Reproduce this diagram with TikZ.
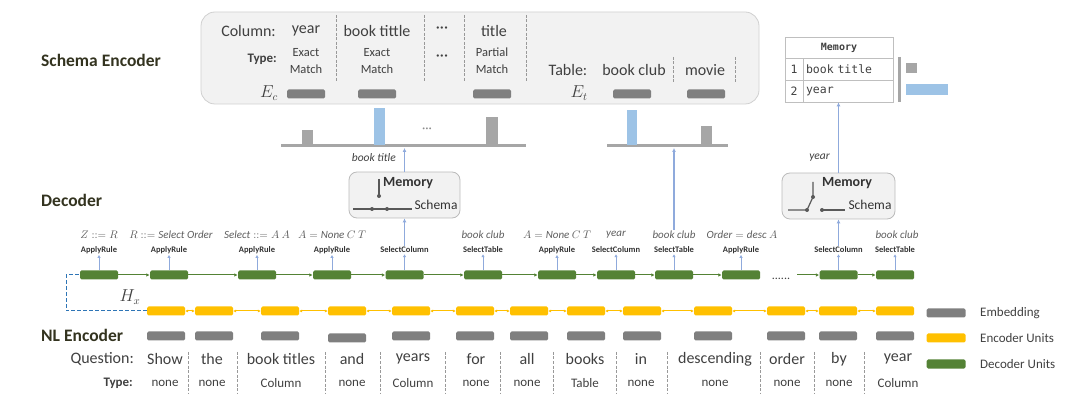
\documentclass[tikz,border=0pt]{standalone}
\usepackage{fontspec}
\setmainfont{Carlito}
\setmonofont{DejaVu Sans Mono}
\usepackage{xcolor}
\usepackage{tikz}
\usetikzlibrary{arrows.meta}

\definecolor{headcol}{HTML}{33331F}
\definecolor{textcol}{HTML}{404040}
\definecolor{panelfill}{HTML}{F2F2F2}
\definecolor{paneldraw}{HTML}{D0D0D0}
\definecolor{embgray}{HTML}{7F7F7F}
\definecolor{attgray}{HTML}{A6A6A6}
\definecolor{attblue}{HTML}{9DC3E6}
\definecolor{upblue}{HTML}{8FAADC}
\definecolor{hxblue}{HTML}{2E75B6}
\definecolor{decgreen}{HTML}{548235}
\definecolor{encyellow}{HTML}{FFC000}
\definecolor{swgray}{HTML}{595959}

\newcommand{\fsz}[1]{\fontsize{#1}{#1}\selectfont}

\begin{document}
\begin{tikzpicture}[
    x=1pt, y=-1pt,
    heading/.style={anchor=west, inner sep=0pt, text=headcol, font=\fsz{17.5}\bfseries},
    word/.style={inner sep=1pt, text=textcol, font=\fsz{16}},
    tag/.style={inner sep=1pt, text=textcol, align=center, font=\fontsize{12.5}{17}\selectfont},
    typelab/.style={anchor=east, inner sep=1pt, text=textcol, font=\fsz{13}\bfseries},
    typeword/.style={inner sep=1pt, text=textcol, font=\fsz{13}},
    emb/.style={rectangle, rounded corners=1.5pt, fill=embgray, minimum width=38pt,
        minimum height=9pt, inner sep=0pt},
    enc/.style={emb, fill=encyellow},
    dec/.style={emb, fill=decgreen},
    panel/.style={rectangle, rounded corners=14pt, draw=paneldraw, fill=panelfill, line width=0.8pt},
    membox/.style={rectangle, rounded corners=8pt, draw=paneldraw!90!black, fill=panelfill,
        line width=0.8pt, minimum width=111pt, minimum height=46pt},
    memtext/.style={inner sep=0pt, text=textcol!80!black, font=\fsz{14}\bfseries},
    schtext/.style={inner sep=0pt, text=textcol!80!black, font=\fsz{13.5}},
    rulelab/.style={inner sep=1pt, text=textcol!80!black, font=\fsz{8.5}\bfseries},
    actlab/.style={inner sep=1pt, text=textcol!85, font=\fsz{11}},
    memcell/.style={rectangle, draw=black!25, line width=0.7pt, inner sep=0pt, text=textcol,
        font=\ttfamily\fsz{11.5}},
    sep/.style={draw=black!40, line width=1pt, dash pattern=on 3pt off 1.5pt},
    base/.style={draw=attgray, line width=3pt},
    sw/.style={draw=swgray, line width=1.2pt},
    up/.style={draw=upblue, line width=1.2pt, -{Latex[length=4pt,width=4pt]}},
    tick/.style={draw=upblue, line width=1pt, -{Latex[length=3pt,width=3.5pt]}},
    decarrow/.style={draw=decgreen, line width=1pt, -{Latex[length=3.5pt,width=3.5pt]}},
    encarrow/.style={draw=encyellow, line width=1pt, {Latex[length=3pt,width=3pt]}-{Latex[length=3pt,width=3pt]}},
    hx/.style={draw=hxblue, line width=1pt, dash pattern=on 4pt off 2pt},
    legtext/.style={anchor=west, inner sep=0pt, text=textcol, font=\fsz{13}}
]
\useasboundingbox (0,0) rectangle (1080,398);

% Section headings
\node[heading] (hschema) at (41,60) {Schema Encoder};
\node[heading] (hdecoder) at (41,200) {Decoder};
\node[heading] (hnl) at (41,335) {NL Encoder};

% Schema panel
\node[panel, minimum width=558pt, minimum height=92pt] (schemabox) at (480,58) {};

\node[word, anchor=east] (collab) at (277,31) {Column:};
\node[word] (col1) at (306,31) {year};
\node[word] (col2) at (377,31) {book tittle};
\node[word] (col3) at (442,30) {···};
\node[word] (col4) at (494,31) {title};

\node[typelab] (ctypelab) at (278,59) {Type:};
\node[tag] (ctype1) at (306,61) {Exact\\Match};
\node[tag] (ctype2) at (377,61) {Exact\\Match};
\node[word] (ctype3) at (442,58) {···};
\node[tag] (ctype4) at (492,61) {Partial\\Match};

\node[word] (eclab) at (269,93) {$E_c$};
\node[emb] (ec1) at (306,94) {};
\node[emb] (ec2) at (377,94) {};
\node[emb] (ec4) at (492,94) {};

\draw[sep] (336,15) -- (336,82);
\draw[sep] (424,15) -- (424,82);
\draw[sep] (464,15) -- (464,82);
\draw[sep] (526,15) -- (526,82);

\node[word] (tablab) at (568,70) {Table:};
\node[word] (tab1) at (634,70) {book club};
\node[word] (tab2) at (705,70) {movie};
\draw[sep] (673,57) -- (673,84);
\draw[sep] (735,57) -- (735,84);

\node[word] (etlab) at (579,93) {$E_t$};
\node[emb] (et1) at (632,94) {};
\node[emb] (et2) at (706,94) {};

% Column and table pointers
\draw[base] (281,146) -- (526,146);
\fill[attgray] (302,130) rectangle (313,145);
\fill[attblue] (374,108) rectangle (385,145);
\node[word, text=black!45, font=\fsz{13}] (attdots) at (427,130) {···};
\fill[attgray] (486,117) rectangle (498,145);
\coordinate (colbase) at (404.5,148);

\draw[base] (607,146) -- (728,146);
\fill[attblue] (627,110) rectangle (637,145);
\fill[attgray] (701,126) rectangle (712,145);
\coordinate (tabbase) at (674,148);

% Memory table
\node[memcell, minimum width=108pt, minimum height=21pt, font=\ttfamily\bfseries\fsz{10}] (mhead) at (839,47.5) {Memory};
\node[memcell, minimum width=18pt, minimum height=22pt] (mnum1) at (794,69) {1};
\node[memcell, minimum width=90pt, minimum height=22pt, text width=84pt, align=left] (mval1) at (848,69) {book title};
\node[memcell, minimum width=18pt, minimum height=22pt] (mnum2) at (794,91) {2};
\node[memcell, minimum width=90pt, minimum height=22pt, text width=84pt, align=left] (mval2) at (848,91) {year};
\draw[base] (899,57) -- (899,102);
\fill[attgray] (906,63) rectangle (917,73);
\fill[attblue] (906,84) rectangle (948,95);

% Memory / schema switches
\node[membox] (mem1) at (404.5,195) {};
\node[memtext] (mem1a) at (408,183) {Memory};
\node[schtext] (mem1b) at (436,205) {Schema};
\draw[sw] (379,179) -- (379,196);
\fill[swgray] (379,196) circle (2pt);
\draw[sw] (353,209) -- (412,209);
\fill[swgray] (372,209) circle (2pt);
\fill[swgray] (387,209) circle (2pt);

\node[membox, minimum width=113pt] (mem2) at (838.5,196) {};
\node[memtext] (mem2a) at (847,183) {Memory};
\node[schtext] (mem2b) at (870,205) {Schema};
\draw[sw] (813,182) -- (813,197) -- (807,210) -- (788,210);
\fill[swgray] (813,197) circle (2pt);
\fill[swgray] (807,210) circle (2pt);
\fill[swgray] (822,210) circle (2pt);
\draw[sw] (822,210) -- (845,210);

\node[word, anchor=east, font=\fsz{11.5}\itshape] (bt) at (397,158) {book title};
\node[word, anchor=east, font=\fsz{11.5}\itshape] (yr) at (831,158) {year};

% Decoder units
\node[dec] (d1) at (99,275) {};
\node[dec] (d2) at (169,275) {};
\node[dec] (d3) at (257,275) {};
\node[dec] (d4) at (332,275) {};
\node[dec] (d5) at (404.5,275) {};
\node[dec] (d6) at (483,275) {};
\node[dec] (d7) at (557,275) {};
\node[dec] (d8) at (616,275) {};
\node[dec] (d9) at (674,275) {};
\node[dec] (d10) at (741,275) {};
\node[dec] (d11) at (838.5,275) {};
\node[dec] (d12) at (895,275) {};

\node[rulelab] (r1) at (99,250) {ApplyRule};
\node[rulelab] (r2) at (169,250) {ApplyRule};
\node[rulelab] (r3) at (257,250) {ApplyRule};
\node[rulelab] (r4) at (332,250) {ApplyRule};
\node[rulelab] (r5) at (404.5,250) {SelectColumn};
\node[rulelab] (r6) at (483,250) {SelectTable};
\node[rulelab] (r7) at (557,250) {ApplyRule};
\node[rulelab] (r8) at (616,250) {SelectColumn};
\node[rulelab] (r9) at (674,250) {SelectTable};
\node[rulelab] (r10) at (741,250) {ApplyRule};
\node[rulelab] (r11) at (838.5,250) {SelectColumn};
\node[rulelab] (r12) at (895,250) {SelectTable};

\node[actlab] (a1) at (99,235) {$Z \mathrel{::=} R$};
\node[actlab] (a2) at (171,235) {$R \mathrel{::=} \mathit{Select\ Order}$};
\node[actlab] (a3) at (257,235) {$\mathit{Select} \mathrel{::=} A\ A$};
\node[actlab] (a4) at (332,235) {$A = \mathit{None}\ C\ T$};
\node[actlab] (a6) at (483,235) {$\mathit{book\ club}$};
\node[actlab] (a7) at (557,235) {$A = \mathit{None}\ C\ T$};
\node[actlab] (a8) at (616,235) {$\mathit{year}$};
\node[actlab] (a9) at (674,235) {$\mathit{book\ club}$};
\node[actlab] (a10) at (742,235) {$\mathit{Order} = \mathit{desc}\ A$};
\node[actlab] (a12) at (897,235) {$\mathit{book\ club}$};

\node[word, font=\fsz{12}] (gap) at (781,279) {......};
\coordinate (d11in) at (797,275);

% Encoder units
\node[enc] (e1) at (166,311) {};
\node[enc] (e2) at (214,311) {};
\node[enc] (e3) at (280,311) {};
\node[enc] (e4) at (347,311) {};
\node[enc] (e5) at (411,311) {};
\node[enc] (e6) at (475,311) {};
\node[enc] (e7) at (529,311) {};
\node[enc] (e8) at (586,311) {};
\node[enc] (e9) at (642,311) {};
\node[enc] (e10) at (713,311) {};
\node[enc] (e11) at (786,311) {};
\node[enc] (e12) at (838,311) {};
\node[enc] (e13) at (895,311) {};

\node[word, font=\fsz{16}] (hxlab) at (130,297) {$H_x$};
\coordinate (hxcorner) at (66,311);

% Embeddings
\node[emb] (m1) at (166,336) {};
\node[emb] (m2) at (214,336) {};
\node[emb] (m3) at (280,336) {};
\node[emb] (m4) at (347,338) {};
\node[emb] (m5) at (411,336) {};
\node[emb] (m6) at (475,336) {};
\node[emb] (m7) at (529,336) {};
\node[emb] (m8) at (586,336) {};
\node[emb] (m9) at (642,336) {};
\node[emb] (m10) at (713,336) {};
\node[emb] (m11) at (786,336) {};
\node[emb] (m12) at (838,336) {};
\node[emb] (m13) at (895,336) {};

% Question and token types
\node[word, anchor=east] (qlab) at (135,359) {Question:};
\node[word] (w1) at (165,359) {Show};
\node[word] (w2) at (212,359) {the};
\node[word] (w3) at (281,359) {book titles};
\node[word] (w4) at (352,359) {and};
\node[word] (w5) at (413,359) {years};
\node[word] (w6) at (476,359) {for};
\node[word] (w7) at (527,359) {all};
\node[word] (w8) at (585,359) {books};
\node[word] (w9) at (641,359) {in};
\node[word] (w10) at (715,359) {descending};
\node[word] (w11) at (787,359) {order};
\node[word] (w12) at (839,359) {by};
\node[word] (w13) at (898,359) {year};

\node[typelab] (qtypelab) at (134,383) {Type:};
\node[typeword] (y1) at (165,383) {none};
\node[typeword] (y2) at (212,383) {none};
\node[typeword] (y3) at (281,383) {Column};
\node[typeword] (y4) at (352,383) {none};
\node[typeword] (y5) at (413,383) {Column};
\node[typeword] (y6) at (476,383) {none};
\node[typeword] (y7) at (527,383) {none};
\node[typeword] (y8) at (585,383) {Table};
\node[typeword] (y9) at (641,383) {none};
\node[typeword] (y10) at (715,383) {none};
\node[typeword] (y11) at (787,383) {none};
\node[typeword] (y12) at (839,383) {none};
\node[typeword] (y13) at (898,383) {Column};

\draw[sep] (188,352) -- (188,393);
\draw[sep] (237,352) -- (237,393);
\draw[sep] (325,352) -- (325,393);
\draw[sep] (380,352) -- (380,393);
\draw[sep] (445,352) -- (445,393);
\draw[sep] (500,352) -- (500,393);
\draw[sep] (553,352) -- (553,393);
\draw[sep] (616,352) -- (616,393);
\draw[sep] (667,352) -- (667,393);
\draw[sep] (760,352) -- (760,393);
\draw[sep] (814,352) -- (814,393);
\draw[sep] (864,352) -- (864,393);

% Legend
\node[emb, minimum width=39pt] (legemb) at (946,313) {};
\node[legtext] (legembtext) at (980,313) {Embedding};
\node[enc, minimum width=39pt] (legenc) at (946,338) {};
\node[legtext] (legenctext) at (980,338) {Encoder Units};
\node[dec, minimum width=39pt] (legdec) at (946,364) {};
\node[legtext] (legdectext) at (980,364) {Decoder Units};

% Connections
\draw[hx] (e1.west) -- (hxcorner) |- (d1.west);

\draw[decarrow] (d1) -- (d2);
\draw[decarrow] (d2) -- (d3);
\draw[decarrow] (d3) -- (d4);
\draw[decarrow] (d4) -- (d5);
\draw[decarrow] (d5) -- (d6);
\draw[decarrow] (d6) -- (d7);
\draw[decarrow] (d7) -- (d8);
\draw[decarrow] (d8) -- (d9);
\draw[decarrow] (d9) -- (d10);
\draw[decarrow] (d11in) -- (d11);
\draw[decarrow] (d11) -- (d12);

\draw[encarrow] (e1) -- (e2);
\draw[encarrow] (e2) -- (e3);
\draw[encarrow] (e3) -- (e4);
\draw[encarrow] (e4) -- (e5);
\draw[encarrow] (e5) -- (e6);
\draw[encarrow] (e6) -- (e7);
\draw[encarrow] (e7) -- (e8);
\draw[encarrow] (e8) -- (e9);
\draw[encarrow] (e9) -- (e10);
\draw[encarrow] (e10) -- (e11);
\draw[encarrow] (e11) -- (e12);
\draw[encarrow] (e12) -- (e13);

\draw[tick] (d1) -- (r1);
\draw[tick] (d2) -- (r2);
\draw[tick] (d3) -- (r3);
\draw[tick] (d4) -- (r4);
\draw[tick] (d5) -- (r5);
\draw[tick] (d6) -- (r6);
\draw[tick] (d7) -- (r7);
\draw[tick] (d8) -- (r8);
\draw[tick] (d9) -- (r9);
\draw[tick] (d10) -- (r10);
\draw[tick] (d11) -- (r11);
\draw[tick] (d12) -- (r12);

\draw[up] (r5) -- (mem1);
\draw[up] (mem1) -- (colbase);
\draw[up] (a9) -- (tabbase);
\draw[up] (r11) -- (mem2);
\draw[up] (mem2) -- (mem2.north |- mval2.south);

\end{tikzpicture}
\end{document}
